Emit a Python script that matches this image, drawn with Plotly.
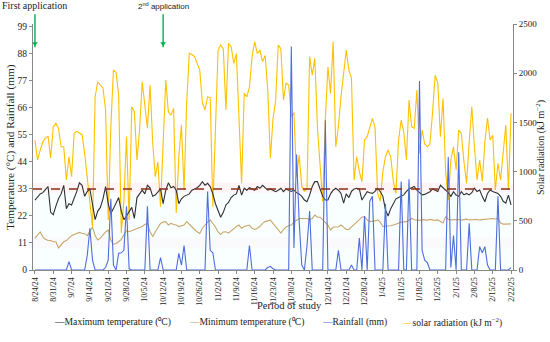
import pandas as pd
import plotly.graph_objects as go

start_date = "2024-08-24"

tmax = [28.5, 30, 31, 31.5, 33, 34, 23.5,
        22.5, 26, 29, 31, 34.5, 25, 27,
        26.5, 29, 32, 35.5, 34.5, 30, 32,
        33, 26, 20.5, 24, 25.5, 29, 34,
        27, 23, 25, 27.5, 29.5, 24, 20.5,
        22, 24, 25.5, 21, 29.5, 31, 32.5,
        31, 34.5, 33.5, 30, 30.5, 32, 33,
        27, 32.5, 35.5, 33.5, 34, 32.5, 27,
        29, 30, 30.5, 31, 32.5, 33, 33.5,
        34.5, 36, 34.5, 35.3, 34, 31, 27,
        24.5, 21.5, 23.5, 26.5, 27.5, 29.5, 30.5,
        31, 34.5, 30.5, 33.3, 32.5, 33.5, 33,
        32.5, 34, 33.3, 34.5, 33.5, 32.5, 33,
        32.5, 31.9, 32.5, 33.3, 31.9, 33, 32.5,
        32, 32.5, 31.5, 31, 30, 28.5, 27.8,
        30.5, 34, 36, 36, 33, 30, 28.5,
        28.5, 31, 32.5, 33.3, 32.5, 31.2, 27.2,
        31, 29.5, 32, 33, 33.3, 33, 28.5,
        30.5, 31.9, 31.5, 31.2, 32, 33.3, 32,
        30, 24.5, 22, 25, 27, 29, 29.5,
        30, 30.6, 32, 33, 33.5, 34, 32.5,
        31.5, 30.6, 30.8, 31.2, 31.9, 33, 32.5,
        32, 34.5, 33.5, 32.6, 31.5, 30, 31.9,
        30.5, 30, 31.9, 30.6, 31.2, 30.6, 31.5,
        33.3, 32, 32.6, 30, 27.8, 31.2, 32.6,
        32, 31.5, 31.2, 30, 28, 27.2, 30.5,
        26.5]

tmin = [13, 14.5, 15.5, 13.5, 12.5, 12, 12,
        11.5, 11.5, 9, 10.5, 11.5, 12, 13,
        14, 14.5, 15, 15.3, 15, 14.8, 14,
        15.5, 17.5, 14, 12.2, 13, 14.5, 15.5,
        16.3, 12, 10.5, 10.8, 11.5, 12.5, 14.3,
        16, 15.6, 16, 16.5, 17, 17.3, 17.7,
        18.5, 19, 15.6, 13.6, 15.5, 17.5, 19,
        19.5, 19.7, 18.3, 19, 18.5, 18.3, 17.7,
        18, 18.3, 19.7, 18.5, 17.5, 16.5, 15.6,
        14.9, 17, 18.5, 19.5, 20.4, 19, 17.5,
        15.5, 14.5, 15.5, 15.6, 15, 16, 17,
        17.7, 18.3, 17, 17.7, 18, 18.3, 17,
        16.5, 17, 17.7, 19, 19.7, 20, 20.4,
        19, 17.5, 16.5, 15, 16.5, 17.5, 18,
        18.3, 19.5, 20.4, 21, 21, 21, 21,
        20.5, 21, 22.4, 21.5, 21.5, 20.4, 19.5,
        18.3, 16.3, 17.5, 17.5, 17.5, 18.3, 17.3,
        16.5, 16.5, 17.5, 18.3, 19.5, 20.5, 21.5,
        21.7, 20.4, 19.7, 19.7, 20, 20.4, 19.5,
        17.7, 17.7, 17.7, 18, 18.3, 18.5, 19,
        19.5, 19.7, 19.7, 20.4, 21, 20.5, 20.4,
        20.2, 20.5, 20.4, 20.3, 20.6, 20.4, 20.2,
        20.4, 19.7, 19.2, 21.7, 20.6, 20.4, 20.5,
        20.4, 20.6, 20.3, 20.5, 20.7, 20.4, 20.5,
        20.3, 20.6, 20.4, 20.5, 20.6, 20.8, 21,
        21, 20.8, 21, 19.2, 18.7, 18.7, 18.9,
        18.8]

rain = [0, 0, 0, 0, 0, 0, 0,
        0, 0, 0, 0, 0, 0, 3.4,
        0, 0, 0, 0, 0, 0, 6,
        17, 4, 0, 0, 0, 0, 1,
        4, 29, 2, 0, 6.8, 7, 8,
        26, 0.5, 0, 0, 0, 0, 0,
        0, 26, 0, 0, 0, 0, 5,
        0, 0, 0, 0, 0, 0, 6.8,
        2, 10, 0, 0, 0, 0, 0,
        0, 0, 0, 32, 8, 7, 0,
        0, 0, 0, 0, 0, 0, 0,
        0, 0, 0, 0, 0, 10, 0,
        0, 0, 0, 0, 0, 1, 1.5,
        0.5, 0, 0, 0, 0, 0, 0,
        91, 9, 47, 20, 2, 0, 10,
        24, 0, 0, 0, 0, 0, 61,
        0, 0, 0, 0, 8, 0, 0,
        0, 0, 2, 0, 0, 13, 0,
        22, 0, 28, 30, 0, 0, 0,
        0, 27, 0, 0, 0, 0, 0,
        36, 0, 0, 37, 0, 0, 0,
        77, 8, 4, 3, 0, 0, 0,
        0, 0, 0, 0, 46, 1, 14,
        0, 48, 0, 0, 0, 19, 0,
        0, 0, 9.5, 7, 9.5, 2, 0,
        0, 0, 30, 0, 0, 0, 0,
        1]

solar = [1321, 1118, 1219, 1300, 1341, 1361, 1138,
         1456, 1490, 1440, 1253, 1253, 914, 1151,
         948, 1392, 1409, 1395, 1375, 1185, 914,
         700, 440, 1761, 1913, 1880, 1850, 1626,
         508, 1450, 2032, 2010, 1778, 376, 700,
         1354, 508, 1659, 1608, 1118, 1422, 1913,
         1659, 1440, 1880, 1300, 948, 1100, 643,
         1354, 1930, 1608, 1574, 1642, 580, 1151,
         1473, 813, 1700, 2202, 2190, 2168, 2100,
         2032, 1700, 1626, 1761, 1750, 643, 1500,
         2235, 2286, 2250, 1626, 2303, 2270, 2100,
         2200, 1500, 881, 1795, 1760, 1862, 2168,
         2320, 2200, 2235, 2117, 2180, 1829, 1135,
         1540, 1720, 2286, 2250, 1727, 1900, 1880,
         1558, 1600, 948, 1168, 846, 800, 820,
         2168, 1981, 2150, 1440, 1100, 694, 1524,
         2066, 1795, 2320, 1253, 1456, 1761, 2000,
         2235, 2032, 1950, 914, 1151, 1000, 897,
         1321, 1355, 1450, 1541, 1450, 779, 700,
         1000, 1151, 1219, 1151, 900, 779, 1321,
         1524, 1400, 1118, 1727, 1456, 1440, 1829,
         1185, 1422, 1280, 1253, 1280, 1600, 1981,
         1900, 1355, 1744, 1000, 711, 1118, 1253,
         1016, 1422, 1390, 1100, 881, 1300, 1659,
         1253, 914, 1118, 900, 1300, 1545, 1321,
         1370, 813, 1084, 914, 1200, 1473, 813,
         1592]

threshold = 33

tick_labels = ["8/24/24", "8/31/24", "9/7/24", "9/14/24", "9/21/24", "9/28/24",
               "10/5/24", "10/12/24", "10/19/24", "10/26/24", "11/2/24", "11/9/24",
               "11/16/24", "11/23/24", "11/30/24", "12/7/24", "12/14/24", "12/21/24",
               "12/28/24", "1/4/25", "1/11/25", "1/18/25", "1/25/25", "2/1/25",
               "2/8/25", "2/15/25", "2/22/25"]
temp_ticks = [0, 11, 22, 33, 44, 55, 66, 77, 88, 99]
solar_ticks = [0, 500, 1000, 1500, 2000, 2500]
application_dates = ["2024-08-24", "2024-10-12"]

dates = pd.date_range(start_date, periods=len(tmax), freq="D")
tick_dates = pd.date_range(start_date, periods=len(tick_labels), freq="7D")

SERIF = "Liberation Serif"
GREEN = "#00b050"
fig = go.Figure()

fig.add_trace(go.Scatter(x=dates, y=solar, mode="lines", yaxis="y",
                         line=dict(color="#ffc000", width=1.1), showlegend=False))
fig.add_trace(go.Scatter(x=dates, y=tmin, mode="lines", yaxis="y2",
                         line=dict(color="#c9a66b", width=1.1), showlegend=False))
fig.add_trace(go.Scatter(x=dates, y=tmax, mode="lines", yaxis="y2",
                         line=dict(color="#303030", width=1.1), showlegend=False))
fig.add_trace(go.Scatter(x=dates, y=rain, mode="lines", yaxis="y2",
                         line=dict(color="#4f6ddc", width=1.1), showlegend=False))

app_ts = [pd.Timestamp(d) for d in application_dates]
fig.add_trace(go.Scatter(x=app_ts, y=[92.3, 92.3], mode="markers", yaxis="y2",
                         marker=dict(symbol="triangle-down", size=5, color=GREEN),
                         showlegend=False, hoverinfo="skip", cliponaxis=False))

x0 = dates[0] - pd.Timedelta(hours=18)
x1 = dates[-1] + pd.Timedelta(hours=18)

shapes = [
    dict(type="rect", xref="x", yref="y2", x0=x0, x1=x1, y0=0, y1=31.5,
         fillcolor="rgba(230,255,255,0.25)", line=dict(width=0), layer="below"),
    dict(type="rect", xref="x", yref="y2", x0=x0, x1=x1, y0=31.5, y1=35.5,
         fillcolor="rgba(255,225,232,0.35)", line=dict(width=0), layer="below"),
    dict(type="rect", xref="x", yref="y2", x0=x0, x1=x1, y0=9, y1=13.4,
         fillcolor="rgba(255,232,238,0.25)", line=dict(width=0), layer="below"),
    dict(type="line", xref="x", yref="y2", x0=x0, x1=x1, y0=threshold, y1=threshold,
         line=dict(color="#8b2f1a", width=1.3, dash="dash"), layer="above"),
]
for t in app_ts:
    shapes.append(dict(type="line", xref="x", yref="paper", x0=t, x1=t,
                       y0=1.04, y1=0.905, line=dict(color=GREEN, width=1.4)))

annotations = [
    dict(x=0.004, y=1.075, xref="paper", yref="paper", xanchor="center",
         yanchor="middle", text="First application", showarrow=False,
         font=dict(family=SERIF, size=10, color="#222")),
    dict(x=0.271, y=1.075, xref="paper", yref="paper", xanchor="center",
         yanchor="middle", text="2<sup>nd</sup> application", showarrow=False,
         font=dict(family="Liberation Sans", size=8, color="#222")),
    dict(x=-0.048, y=0.5, xref="paper", yref="paper", textangle=-90,
         xanchor="center", yanchor="middle",
         text="Temperature (°C) and Rainfall (mm)", showarrow=False,
         font=dict(family=SERIF, size=11.3, color="#222")),
    dict(x=1.056, y=0.5, xref="paper", yref="paper", textangle=-90,
         xanchor="center", yanchor="middle",
         text="Solar radiation (kJ m<sup>−2</sup>)", showarrow=False,
         font=dict(family=SERIF, size=10, color="#222")),
    dict(x=0.535, y=-0.143, xref="paper", yref="paper", xanchor="center",
         yanchor="middle", text="Period of study", showarrow=False,
         font=dict(family=SERIF, size=10.5, color="#222")),
]

legend_items = [("#303030", "Maximum temperature (⁰C)", 52),
                ("#c9a66b", "Minimum temperature (⁰C)", 187),
                ("#4f6ddc", "Rainfall (mm)", 320),
                ("#ffc000", "solar radiation (kJ m<sup>−2</sup>)", 400)]
for color, label, px in legend_items:
    annotations.append(dict(x=(px - 33) / 480, y=-0.213, xref="paper", yref="paper",
                            xanchor="left", yanchor="middle", showarrow=False,
                            text=f"<span style='color:{color}'>—</span>{label}",
                            font=dict(family=SERIF, size=9.6, color="#222")))

fig.update_layout(
    width=550, height=342,
    margin=dict(l=33, r=37, t=24, b=72),
    paper_bgcolor="white", plot_bgcolor="white",
    xaxis=dict(type="date", range=[x0, x1], tickvals=tick_dates, ticktext=tick_labels,
               tickangle=-90, ticks="outside", ticklen=3, tickcolor="#888",
               showline=True, linecolor="#888", linewidth=1, showgrid=False,
               zeroline=False, automargin=False,
               tickfont=dict(family=SERIF, size=8, color="#222")),
    yaxis=dict(range=[0, 2500], tickvals=solar_ticks, side="right", showline=True,
               linecolor="#888", ticks="outside", ticklen=3, tickcolor="#888",
               showgrid=False, zeroline=False, automargin=False,
               tickfont=dict(family=SERIF, size=9, color="#222")),
    yaxis2=dict(range=[0, 100.2], tickvals=temp_ticks, side="left", overlaying="y",
                showline=True, linecolor="#888", ticks="outside", ticklen=3,
                tickcolor="#888", showgrid=False, zeroline=False, automargin=False,
                tickfont=dict(family=SERIF, size=9.5, color="#222")),
    shapes=shapes,
    annotations=annotations,
)

fig.write_html("out.html", config={"displayModeBar": False},
               post_script="document.body.style.margin='0px';")
